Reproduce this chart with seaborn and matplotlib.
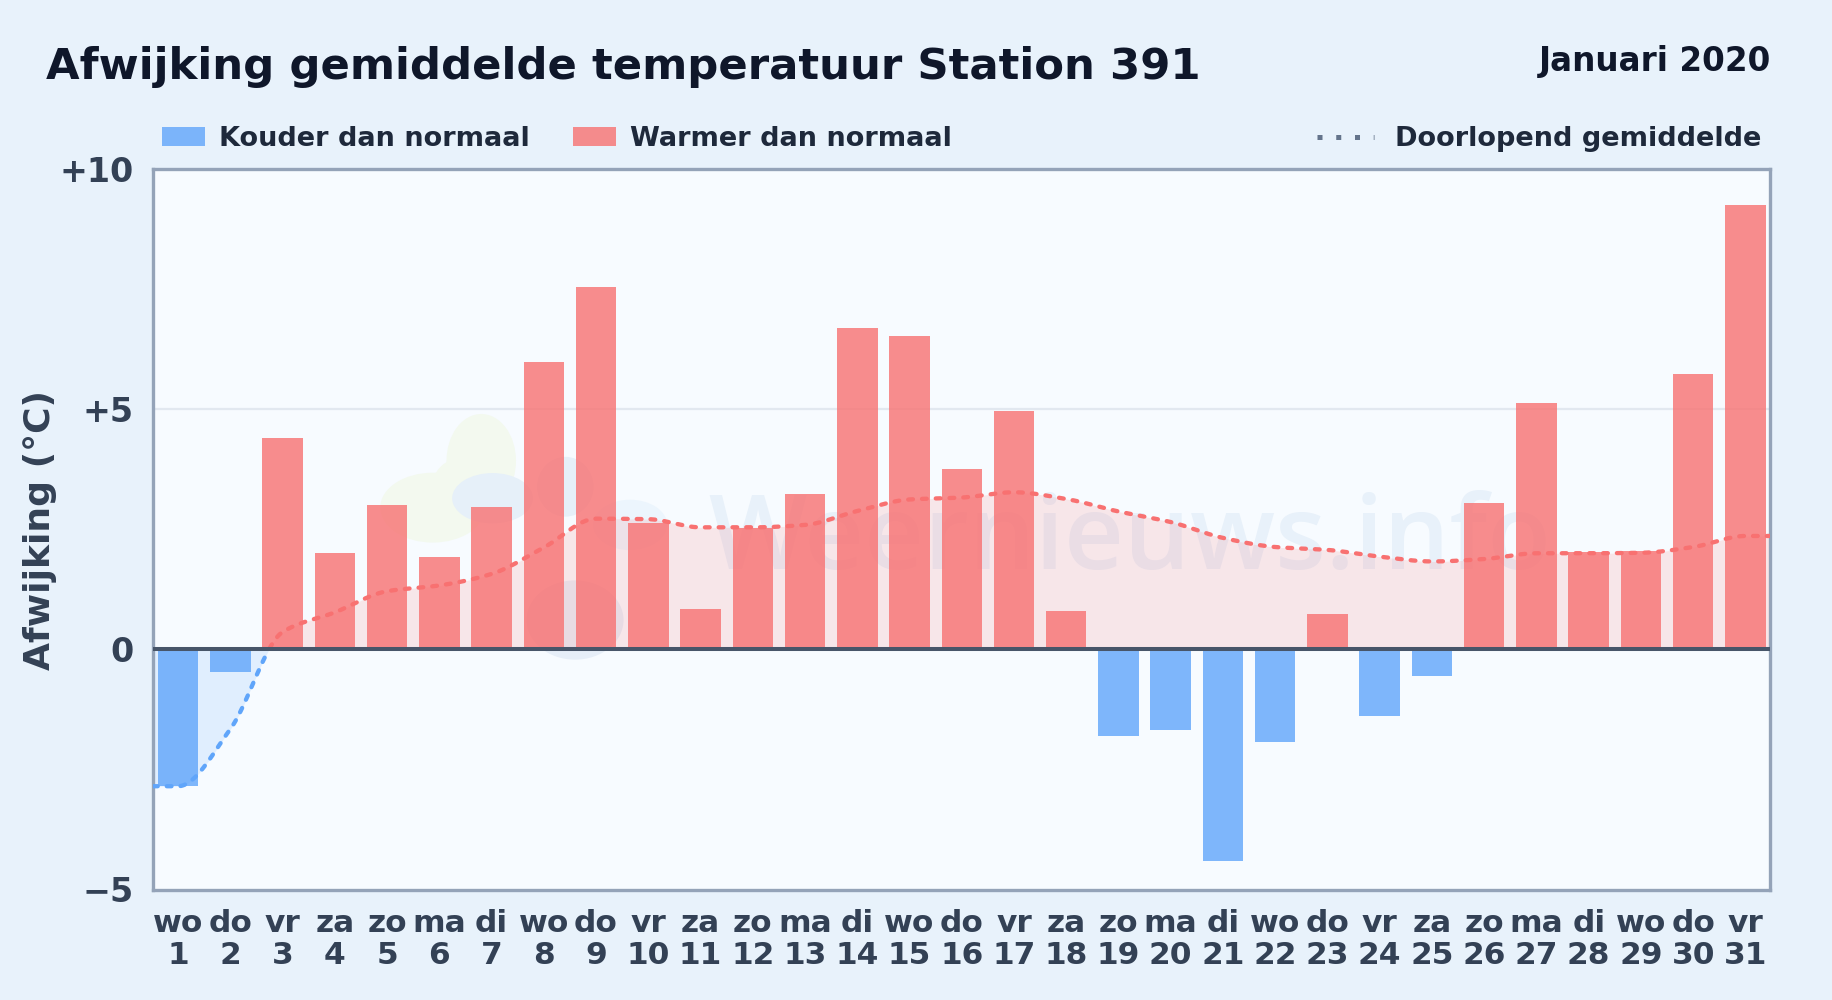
import numpy as np
import pandas as pd
import matplotlib
matplotlib.use("Agg")
import matplotlib.pyplot as plt
import seaborn as sns
from matplotlib.lines import Line2D
from matplotlib.patches import Ellipse, Patch

# Values
weekdays = ["wo", "do", "vr", "za", "zo", "ma", "di", "wo", "do", "vr", "za", "zo", "ma", "di", "wo", "do",
            "vr", "za", "zo", "ma", "di", "wo", "do", "vr", "za", "zo", "ma", "di", "wo", "do", "vr"]
days = list(range(1, 32))
deviation = [-2.85, -0.47, 4.40, 2.00, 3.00, 1.92, 2.97, 5.98, 7.54, 2.63, 0.85, 2.53, 3.24, 6.69, 6.52, 3.75,
             4.96, 0.80, -1.80, -1.68, -4.40, -1.92, 0.73, -1.39, -0.56, 3.04, 5.13, 2.02, 2.04, 5.74, 9.25]
running_mean = [-2.85, -1.66, 0.36, 0.77, 1.21, 1.33, 1.57, 2.12, 2.72, 2.71, 2.54, 2.54, 2.59, 2.88, 3.12, 3.16,
                3.27, 3.13, 2.87, 2.65, 2.32, 2.13, 2.07, 1.93, 1.83, 1.88, 2.00, 2.00, 2.01, 2.13, 2.36]
y_ticks = [-5, 0, 5, 10]
y_tick_labels = ["\u22125", "0", "+5", "+10"]

BG = "#e8f2fb"
PLOT_BG = "#f7fbff"
RED = "#f87171"
BLUE = "#60a5fa"
W, H = 1832, 1000


def monotone_curve(x, y, n=40):
    # monotone cubic between the points, same look as the original line
    x = np.asarray(x, float)
    y = np.asarray(y, float)
    h = np.diff(x)
    s = np.diff(y) / h
    m = np.zeros_like(y)
    m[0], m[-1] = s[0], s[-1]
    for i in range(1, len(y) - 1):
        if s[i - 1] * s[i] > 0:
            m[i] = 3 * (h[i - 1] + h[i]) / ((2 * h[i] + h[i - 1]) / s[i - 1] + (h[i] + 2 * h[i - 1]) / s[i])
    xs, ys = [], []
    for i in range(len(h)):
        t = np.linspace(0, 1, n, endpoint=False)
        xs.append(x[i] + t * h[i])
        ys.append((2*t**3 - 3*t**2 + 1) * y[i] + (t**3 - 2*t**2 + t) * h[i] * m[i]
                  + (-2*t**3 + 3*t**2) * y[i + 1] + (t**3 - t**2) * h[i] * m[i + 1])
    return np.append(np.concatenate(xs), x[-1]), np.append(np.concatenate(ys), y[-1])


df = pd.DataFrame({"label": [f"{w}\n{d}" for w, d in zip(weekdays, days)], "deviation": deviation})
df["kind"] = np.where(df["deviation"] < 0, "cold", "warm")

sns.set_theme(style="white")
plt.rcParams["font.family"] = "DejaVu Sans"
plt.rcParams["font.weight"] = "bold"

fig = plt.figure(figsize=(W / 100, H / 100), dpi=100, facecolor=BG)
ax = fig.add_axes([153 / W, 1 - 889.5 / H, (1770 - 153) / W, (889.5 - 169) / H], facecolor=PLOT_BG)

# faint watermark behind everything
for (cx, cy, ew, eh, col) in [(0.203, 0.595, 0.043, 0.130, "#f3f9ef"),
                              (0.173, 0.530, 0.065, 0.097, "#f3f9ef"),
                              (0.192, 0.555, 0.040, 0.090, "#f3f9ef"),
                              (0.210, 0.543, 0.050, 0.070, "#e6f0f9"),
                              (0.255, 0.559, 0.035, 0.083, "#e6f0f9"),
                              (0.295, 0.506, 0.046, 0.070, "#ecf5fd"),
                              (0.261, 0.374, 0.060, 0.110, "#e6eef8")]:
    ax.add_patch(Ellipse((cx, cy), ew, eh, transform=ax.transAxes, color=col, lw=0, zorder=0))
ax.text(0.604, 0.445, "Weernieuws.info", transform=ax.transAxes, ha="center", va="baseline", fontsize=75,
        family="Open Sans", fontweight="semibold", color="#e8f1fa", zorder=0.5)

ax.axhline(5, color="#e2e8f0", lw=1.6, zorder=1)

# running mean, flat out to the plot edges
xlim = (-0.48, len(days) - 0.53)
curve_x, curve_y = monotone_curve([xlim[0]] + list(range(len(days))) + [xlim[1]],
                                  [running_mean[0]] + running_mean + [running_mean[-1]])
ax.fill_between(curve_x, 0, curve_y, where=curve_y >= 0, color=RED, alpha=0.15, lw=0, zorder=1.5, interpolate=True)
ax.fill_between(curve_x, 0, curve_y, where=curve_y <= 0, color=BLUE, alpha=0.15, lw=0, zorder=1.5, interpolate=True)

sns.barplot(data=df, x="label", y="deviation", hue="kind", hue_order=["cold", "warm"],
            palette={"cold": BLUE, "warm": RED}, dodge=False, width=0.775, alpha=0.8, saturation=1,
            legend=False, ax=ax, zorder=2, edgecolor="none", linewidth=0)

curve = pd.DataFrame({"x": curve_x, "y": curve_y})
dash = (0, (1.1, 2.1))
for part, col in [(curve[curve["y"] <= 0], BLUE), (curve[curve["y"] >= 0], RED)]:
    sns.lineplot(data=part, x="x", y="y", color=col, lw=3.1, linestyle=dash, dash_capstyle="round",
                 estimator=None, sort=False, ax=ax, zorder=3, clip_on=True)

ax.axhline(0, color="#475569", lw=2.9, zorder=4)

ax.set_xlim(*xlim)
ax.set_ylim(-5, 10)
ax.set_yticks(y_ticks, y_tick_labels)
ax.tick_params(axis="both", length=0, labelcolor="#334155")
ax.tick_params(axis="x", pad=14, labelsize=22.5)
ax.tick_params(axis="y", pad=13.6, labelsize=24)
for lab in ax.get_xticklabels():
    lab.set_linespacing(1.12)
ax.set_xlabel("")
ax.set_ylabel("")
for sp in ax.spines.values():
    sp.set_visible(True)
    sp.set_color("#94a3b8")
    sp.set_linewidth(2.4)

fig.text(40 / W, 1 - 530 / H, "Afwijking (\u00b0C)", rotation=90, ha="center", va="center", fontsize=26,
         color="#334155", fontweight="bold")
fig.text(46 / W, 1 - 67 / H, "Afwijking gemiddelde temperatuur Station 391", ha="left", va="center",
         fontsize=31.2, color="#0f172a", fontweight="bold")
fig.text(1771 / W, 1 - 62 / H, "Januari 2020", ha="right", va="center", fontsize=23.5,
         color="#0f172a", fontweight="bold")

# legends
left = fig.legend(handles=[Patch(color=BLUE, alpha=0.8, lw=0, label="Kouder dan normaal"),
                           Patch(color=RED, alpha=0.8, lw=0, label="Warmer dan normaal")],
                  loc="center left", bbox_to_anchor=(162 / W, 1 - 139 / H), ncols=2, frameon=False,
                  fontsize=19.5, labelcolor="#1e293b", handlelength=1.6, handleheight=0.72, handletextpad=0.52,
                  columnspacing=1.58, borderaxespad=0, borderpad=0)
right = fig.legend(handles=[Line2D([], [], color="#64748b", lw=3.6, linestyle=(0, (1, 2.75)),
                                   label="Doorlopend gemiddelde")],
                   loc="center right", bbox_to_anchor=(1761 / W, 1 - 139 / H), frameon=False,
                   fontsize=19.5, labelcolor="#1e293b", handlelength=2.1, handletextpad=0.75,
                   borderaxespad=0, borderpad=0)

fig.savefig("out.png", dpi=100, facecolor=fig.get_facecolor())
